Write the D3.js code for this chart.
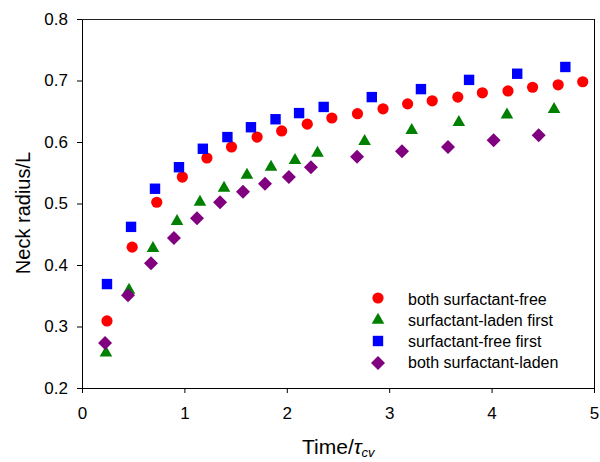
<!DOCTYPE html>
<html>
<head>
<meta charset="utf-8">
<script src="https://cdn.jsdelivr.net/npm/d3@7"></script>
<style>
  html, body { margin: 0; padding: 0; background: #fff; }
  svg { display: block; font-family: "Liberation Sans", Arial, sans-serif; }
</style>
</head>
<body>
<svg id="chart" width="600" height="462"></svg>
<script>
// ---- data ----
const xTickValues = [0, 1, 2, 3, 4, 5];
const yTickValues = [0.2, 0.3, 0.4, 0.5, 0.6, 0.7, 0.8];

const seriesNames = ["both surfactant-free", "surfactant-laden first", "surfactant-free first", "both surfactant-laden"];

const bothFreeX = [0.244, 0.49, 0.73, 0.98, 1.22, 1.46, 1.71, 1.95, 2.20, 2.44, 2.69, 2.94, 3.18, 3.42, 3.67, 3.91, 4.16, 4.40, 4.65, 4.89];
const bothFreeY = [0.309, 0.429, 0.502, 0.543, 0.574, 0.592, 0.608, 0.618, 0.629, 0.639, 0.646, 0.654, 0.662, 0.667, 0.673, 0.680, 0.683, 0.689, 0.693, 0.698];

const ladenFirstX = [0.234, 0.459, 0.693, 0.928, 1.152, 1.387, 1.611, 1.846, 2.08, 2.30, 2.76, 3.22, 3.68, 4.15, 4.61];
const ladenFirstY = [0.259, 0.361, 0.429, 0.473, 0.504, 0.527, 0.548, 0.561, 0.572, 0.584, 0.603, 0.621, 0.634, 0.646, 0.655];

const freeFirstX = [0.244, 0.479, 0.713, 0.947, 1.18, 1.42, 1.65, 1.89, 2.12, 2.36, 2.83, 3.31, 3.78, 4.25, 4.72];
const freeFirstY = [0.369, 0.462, 0.524, 0.559, 0.589, 0.608, 0.624, 0.637, 0.647, 0.657, 0.673, 0.686, 0.701, 0.711, 0.722];

const bothLadenX = [0.225, 0.449, 0.674, 0.898, 1.123, 1.348, 1.572, 1.787, 2.02, 2.236, 2.686, 3.125, 3.574, 4.02, 4.46];
const bothLadenY = [0.273, 0.351, 0.403, 0.444, 0.476, 0.502, 0.519, 0.532, 0.543, 0.559, 0.576, 0.585, 0.592, 0.603, 0.611];

// ---- layout ----
const L = 82, R = 594, T = 19, B = 388;
const svg = d3.select("#chart");
const x = d3.scaleLinear().domain([0, 5]).range([L, R]);
const y = d3.scaleLinear().domain([0.2, 0.8]).range([B, T]);

const series = [
  { name: seriesNames[0], xs: bothFreeX, ys: bothFreeY, color: "#ff0000", shape: "circle" },
  { name: seriesNames[1], xs: ladenFirstX, ys: ladenFirstY, color: "#008000", shape: "triangle" },
  { name: seriesNames[2], xs: freeFirstX, ys: freeFirstY, color: "#0000ff", shape: "square" },
  { name: seriesNames[3], xs: bothLadenX, ys: bothLadenY, color: "#800080", shape: "diamond" }
];

function shapePath(shape) {
  if (shape === "triangle") return "M0,-6.2L6.3,4.8L-6.3,4.8Z";
  if (shape === "square") return "M-5.2,-5.2H5.2V5.2H-5.2Z";
  if (shape === "diamond") return "M0,-7L7,0L0,7L-7,0Z";
  return null;
}
function drawMarker(g, shape, color) {
  if (shape === "circle") {
    g.append("circle").attr("r", 5.6).attr("fill", color);
  } else {
    g.append("path").attr("d", shapePath(shape)).attr("fill", color);
  }
}

// ---- axes ----
const xAxis = d3.axisBottom(x).tickValues(xTickValues).tickFormat(d3.format("d"))
  .tickSize(5).tickSizeOuter(0).tickPadding(14);
const yAxis = d3.axisLeft(y).tickValues(yTickValues).tickFormat(d3.format(".1f"))
  .tickSize(5).tickSizeOuter(0).tickPadding(9);

const gx = svg.append("g").attr("transform", `translate(0,${B})`).call(xAxis);
const gy = svg.append("g").attr("transform", `translate(${L},0)`).call(yAxis);
[gx, gy].forEach(g => {
  g.selectAll("text").attr("font-size", 17).attr("fill", "#000")
    .attr("font-family", "'Liberation Sans', Arial, sans-serif");
  g.selectAll("line").attr("stroke", "#000");
  g.select(".domain").attr("stroke", "#000");
});

// frame top and right
svg.append("line").attr("x1", L).attr("x2", R).attr("y1", T + 0.5).attr("y2", T + 0.5)
  .attr("stroke", "#222").attr("stroke-width", 1);
svg.append("line").attr("x1", R + 0.5).attr("x2", R + 0.5).attr("y1", T).attr("y2", B)
  .attr("stroke", "#000").attr("stroke-width", 1);

// ---- points ----
series.forEach(s => {
  const g = svg.append("g");
  s.xs.forEach((xv, i) => {
    const m = g.append("g").attr("transform", `translate(${x(xv)},${y(s.ys[i])})`);
    drawMarker(m, s.shape, s.color);
  });
});

// ---- legend ----
const legendMarkerX = 378, legendTextX = 408;
const legendMarkerY = [298, 319, 341, 363];
const legendBaseline = [305, 326, 347, 368];
series.forEach((s, i) => {
  const m = svg.append("g").attr("transform", `translate(${legendMarkerX},${legendMarkerY[i]})`);
  drawMarker(m, s.shape, s.color);
  svg.append("text").attr("x", legendTextX).attr("y", legendBaseline[i])
    .attr("font-size", 16).attr("fill", "#000").text(s.name);
});

// ---- axis titles ----
const xt = svg.append("text").attr("x", 302).attr("y", 454)
  .attr("font-size", 21).attr("fill", "#000");
xt.append("tspan").text("Time/");
xt.append("tspan").attr("font-style", "italic").text("τ");
xt.append("tspan").attr("font-style", "italic").attr("font-size", 13).attr("dy", 3).text("cv");

svg.append("text").attr("transform", "translate(30,213) rotate(-90)")
  .attr("text-anchor", "middle").attr("font-size", 20).attr("fill", "#000")
  .text("Neck radius/L");
</script>
</body>
</html>
